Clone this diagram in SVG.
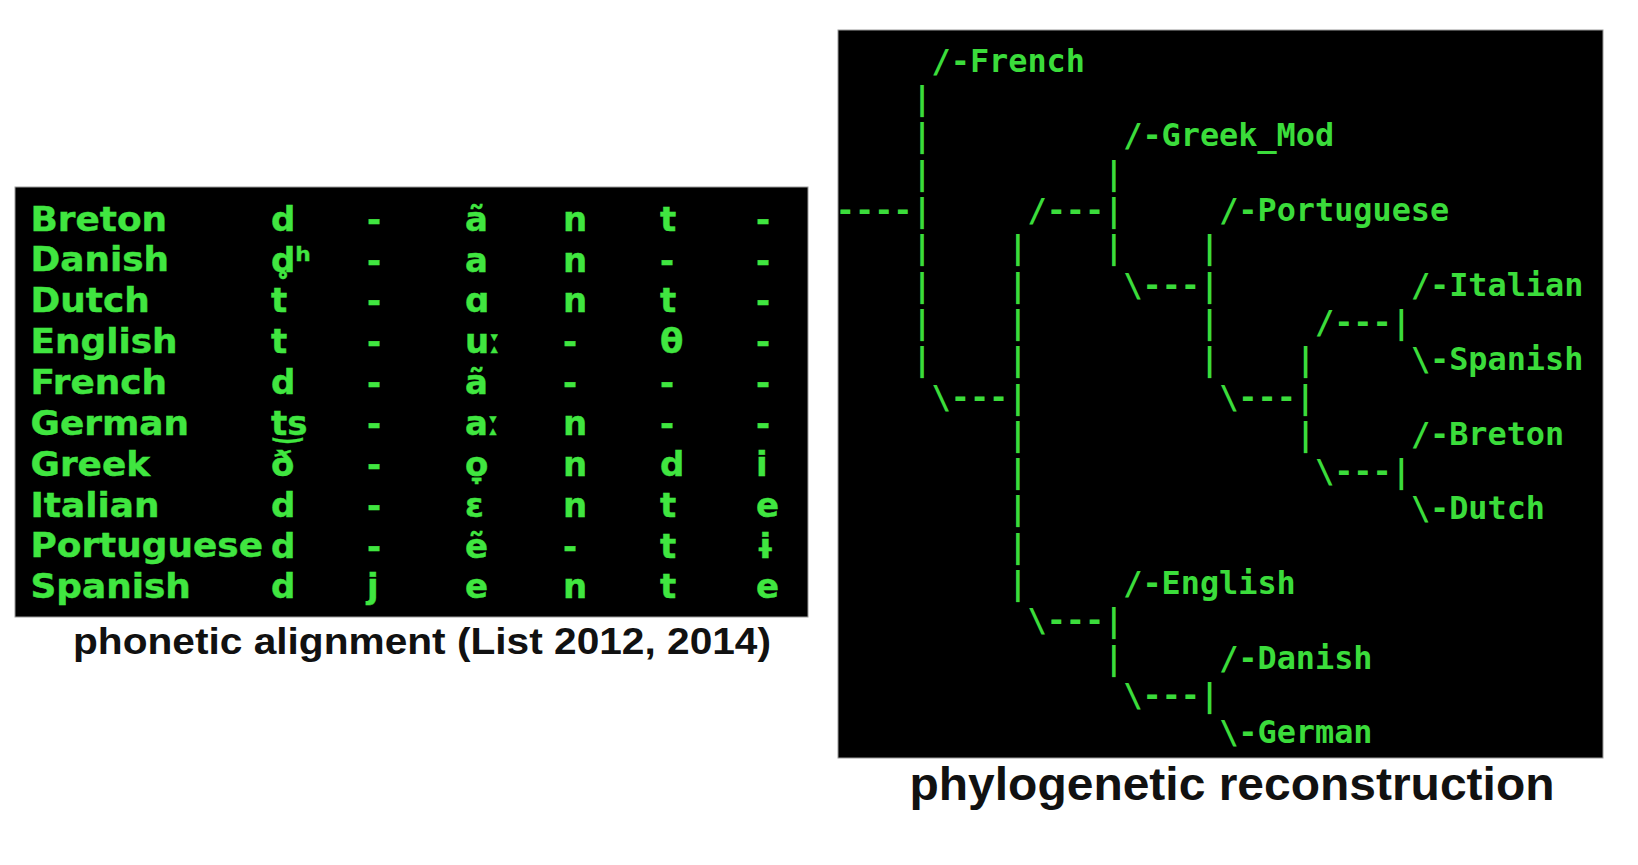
<svg xmlns="http://www.w3.org/2000/svg" width="1638" height="865" viewBox="0 0 1638 865">
<style>
.bg{fill:#000;stroke:#9a9a9a;stroke-width:1}
.tb{font-family:"DejaVu Sans","Noto Sans",sans-serif;font-weight:bold;font-size:34px;fill:#40e640;stroke:#40e640;stroke-width:0.4}
.tr{font-family:"DejaVu Sans Mono","Liberation Mono",monospace;font-weight:bold;font-size:31.85px;fill:#3bdc3b}
.cap{font-family:"Liberation Sans",Arial,sans-serif;font-weight:bold;fill:#111}
</style>
<rect width="1638" height="865" fill="#fff"/>

<!-- Left: phonetic alignment -->
<g id="alignment">
<rect class="bg" x="15" y="187" width="793" height="430"/>
<g class="tb" transform="translate(30.5,0) scale(1.055,1) translate(-30.5,0)">
<text x="30.5" y="230.7">Breton</text>
<text x="30.5" y="271.5">Danish</text>
<text x="30.5" y="312.4">Dutch</text>
<text x="30.5" y="353.2">English</text>
<text x="30.5" y="394.1">French</text>
<text x="30.5" y="434.9">German</text>
<text x="30.5" y="475.8">Greek</text>
<text x="30.5" y="516.6">Italian</text>
<text x="30.5" y="557.5">Portuguese</text>
<text x="30.5" y="598.3">Spanish</text>
</g>
<g class="tb">
<text x="271" y="230.7">d</text><text x="367" y="230.7">-</text><text x="465" y="230.7">ã</text><text x="563" y="230.7">n</text><text x="660" y="230.7">t</text><text x="756" y="230.7">-</text>
<text x="271" y="271.5">d̥ʰ</text><text x="367" y="271.5">-</text><text x="465" y="271.5">a</text><text x="563" y="271.5">n</text><text x="660" y="271.5">-</text><text x="756" y="271.5">-</text>
<text x="271" y="312.4">t</text><text x="367" y="312.4">-</text><text x="465" y="312.4">ɑ</text><text x="563" y="312.4">n</text><text x="660" y="312.4">t</text><text x="756" y="312.4">-</text>
<text x="271" y="353.2">t</text><text x="367" y="353.2">-</text><text x="465" y="353.2">uː</text><text x="563" y="353.2">-</text><text x="660" y="353.2">θ</text><text x="756" y="353.2">-</text>
<text x="271" y="394.1">d</text><text x="367" y="394.1">-</text><text x="465" y="394.1">ã</text><text x="563" y="394.1">-</text><text x="660" y="394.1">-</text><text x="756" y="394.1">-</text>
<text x="271" y="434.9">t͜s</text><text x="367" y="434.9">-</text><text x="465" y="434.9">aː</text><text x="563" y="434.9">n</text><text x="660" y="434.9">-</text><text x="756" y="434.9">-</text>
<text x="271" y="475.8">ð</text><text x="367" y="475.8">-</text><text x="465" y="475.8">o̞</text><text x="563" y="475.8">n</text><text x="660" y="475.8">d</text><text x="756" y="475.8">i</text>
<text x="271" y="516.6">d</text><text x="367" y="516.6">-</text><text x="465" y="516.6">ɛ</text><text x="563" y="516.6">n</text><text x="660" y="516.6">t</text><text x="756" y="516.6">e</text>
<text x="271" y="557.5">d</text><text x="367" y="557.5">-</text><text x="465" y="557.5">ẽ</text><text x="563" y="557.5">-</text><text x="660" y="557.5">t</text><text x="756" y="557.5">ɨ</text>
<text x="271" y="598.3">d</text><text x="367" y="598.3">j</text><text x="465" y="598.3">e</text><text x="563" y="598.3">n</text><text x="660" y="598.3">t</text><text x="756" y="598.3">e</text>
</g>
<text class="cap" x="73" y="654.3" font-size="37" textLength="698" lengthAdjust="spacingAndGlyphs">phonetic alignment (List 2012, 2014)</text>
</g>

<!-- Right: phylogenetic tree -->
<rect class="bg" x="838" y="30" width="765" height="728"/>
<g id="connectors" class="tr">
<text x="931.6" y="71.7">/-</text>
<text x="912.5" y="109">|</text>
<text x="912.5" y="146.3">|</text><text x="1123.3" y="146.3">/-</text>
<text x="912.5" y="183.6">|</text><text x="1104.2" y="183.6">|</text>
<text x="835.8" y="220.9">----|</text><text x="1027.5" y="220.9">/---|</text><text x="1219.2" y="220.9">/-</text>
<text x="912.5" y="258.3">|</text><text x="1008.3" y="258.3">|</text><text x="1104.2" y="258.3">|</text><text x="1200" y="258.3">|</text>
<text x="912.5" y="295.6">|</text><text x="1008.3" y="295.6">|</text><text x="1123.3" y="295.6">\---|</text><text x="1410.9" y="295.6">/-</text>
<text x="912.5" y="332.9">|</text><text x="1008.3" y="332.9">|</text><text x="1200" y="332.9">|</text><text x="1315" y="332.9">/---|</text>
<text x="912.5" y="370.2">|</text><text x="1008.3" y="370.2">|</text><text x="1200" y="370.2">|</text><text x="1295.9" y="370.2">|</text><text x="1410.9" y="370.2">\-</text>
<text x="931.6" y="407.5">\---|</text><text x="1219.2" y="407.5">\---|</text>
<text x="1008.3" y="444.8">|</text><text x="1295.9" y="444.8">|</text><text x="1410.9" y="444.8">/-</text>
<text x="1008.3" y="482.1">|</text><text x="1315" y="482.1">\---|</text>
<text x="1008.3" y="519.4">|</text><text x="1410.9" y="519.4">\-</text>
<text x="1008.3" y="556.7">|</text>
<text x="1008.3" y="594">|</text><text x="1123.3" y="594">/-</text>
<text x="1027.5" y="631.4">\---|</text>
<text x="1104.2" y="668.7">|</text><text x="1219.2" y="668.7">/-</text>
<text x="1123.3" y="706">\---|</text>
<text x="1219.2" y="743.3">\-</text>
</g>
<g id="French" class="tr"><text x="969.9" y="71.7">French</text></g>
<g id="Greek_Mod" class="tr"><text x="1161.6" y="146.3">Greek_Mod</text></g>
<g id="Portuguese" class="tr"><text x="1257.5" y="220.9">Portuguese</text></g>
<g id="Italian" class="tr"><text x="1449.2" y="295.6">Italian</text></g>
<g id="Spanish" class="tr"><text x="1449.2" y="370.2">Spanish</text></g>
<g id="Breton" class="tr"><text x="1449.2" y="444.8">Breton</text></g>
<g id="Dutch" class="tr"><text x="1449.2" y="519.4">Dutch</text></g>
<g id="English" class="tr"><text x="1161.6" y="594">English</text></g>
<g id="Danish" class="tr"><text x="1257.5" y="668.7">Danish</text></g>
<g id="German" class="tr"><text x="1257.5" y="743.3">German</text></g>
<text class="cap" x="909.5" y="800" font-size="46.5" textLength="645" lengthAdjust="spacingAndGlyphs">phylogenetic reconstruction</text>
</svg>
